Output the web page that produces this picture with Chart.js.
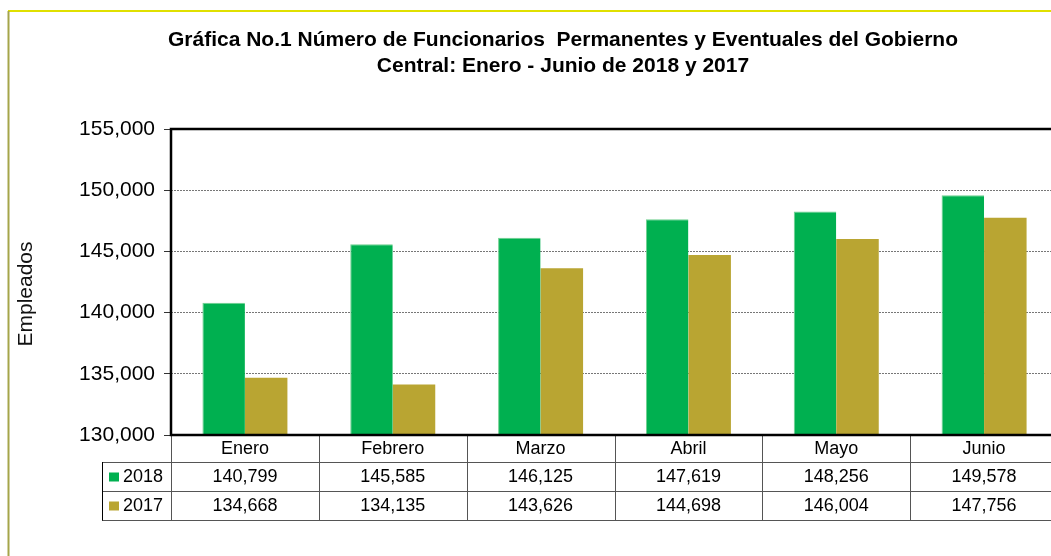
<!DOCTYPE html>
<html>
<head>
<meta charset="utf-8">
<script src="https://cdn.jsdelivr.net/npm/chart.js@4.4.1/dist/chart.umd.min.js"></script>
<style>
  html, body { margin: 0; padding: 0; background: #fff; overflow: hidden; }
  #wrap { width: 1062px; height: 556px; }
</style>
</head>
<body>
<div id="wrap"><canvas id="grafica" width="1062" height="556"></canvas></div>
<script>
// Datos
const meses = ["Enero", "Febrero", "Marzo", "Abril", "Mayo", "Junio"];
const series = ["2018", "2017"];
const datos2018 = [140799, 145585, 146125, 147619, 148256, 149578];
const datos2017 = [134668, 134135, 143626, 144698, 146004, 147756];
const colores = ["#00B050", "#B9A532"];
const ticksY = [130000, 135000, 140000, 145000, 150000, 155000];
const titulo = [
  "Gráfica No.1 Número de Funcionarios  Permanentes y Eventuales del Gobierno",
  "Central: Enero - Junio de 2018 y 2017",
];
const tituloY = "Empleados";

const FUENTE = "'Liberation Sans', Arial, sans-serif";
const fmt = (v) => v.toLocaleString("en-US");

Chart.defaults.font.family = FUENTE;
Chart.defaults.color = "#000";

// Marco, titulos y tabla de datos
const tablaPlugin = {
  id: "tabla",
  beforeDraw(chart) {
    const ctx = chart.ctx;
    ctx.save();
    // marco exterior
    ctx.strokeStyle = "#E0E000";
    ctx.lineWidth = 2;
    ctx.beginPath();
    ctx.moveTo(8, 11);
    ctx.lineTo(chart.width, 11);
    ctx.stroke();
    ctx.strokeStyle = "#A5A54A";
    ctx.beginPath();
    ctx.moveTo(8.5, 11);
    ctx.lineTo(8.5, chart.height);
    ctx.stroke();
    // titulo
    ctx.fillStyle = "#000";
    ctx.font = "bold 21px " + FUENTE;
    ctx.textAlign = "center";
    ctx.textBaseline = "middle";
    ctx.fillText(titulo[0], 563, 40);
    ctx.fillText(titulo[1], 563, 66);
    // titulo del eje
    ctx.font = "21px " + FUENTE;
    ctx.fillStyle = "#111";
    ctx.translate(26, 294);
    ctx.rotate(-Math.PI / 2);
    ctx.fillText(tituloY, 0, 0);
    ctx.restore();
  },
  afterDatasetsDraw(chart) {
    const ctx = chart.ctx;
    const a = chart.chartArea;
    const x = chart.scales.x;
    const ancho = (x.getPixelForValue(1) - x.getPixelForValue(0));
    const filas = [a.bottom, a.bottom + 27, a.bottom + 56, a.bottom + 85];
    const izq = 102;
    ctx.save();

    // lineas de la tabla
    ctx.strokeStyle = "#555";
    ctx.lineWidth = 1;
    ctx.beginPath();
    for (let i = 0; i <= meses.length; i++) {
      const px = Math.round(x.getPixelForValue(i) - ancho / 2) + 0.5;
      ctx.moveTo(px, filas[0]);
      ctx.lineTo(px, filas[3]);
    }
    for (let r = 1; r < filas.length; r++) {
      ctx.moveTo(izq, filas[r] + 0.5);
      ctx.lineTo(a.right, filas[r] + 0.5);
    }
    ctx.stroke();
    ctx.strokeStyle = "#000";
    ctx.beginPath();
    ctx.moveTo(izq + 0.5, filas[1]);
    ctx.lineTo(izq + 0.5, filas[3] + 0.5);
    ctx.stroke();

    // textos
    ctx.fillStyle = "#000";
    ctx.font = "18px " + FUENTE;
    ctx.textBaseline = "middle";
    ctx.textAlign = "center";
    meses.forEach((m, i) => {
      const px = x.getPixelForValue(i);
      ctx.fillText(m, px, (filas[0] + filas[1]) / 2 + 1);
      ctx.fillText(fmt(datos2018[i]), px, (filas[1] + filas[2]) / 2 + 1);
      ctx.fillText(fmt(datos2017[i]), px, (filas[2] + filas[3]) / 2 + 1);
    });
    ctx.textAlign = "left";
    series.forEach((s, k) => {
      const cy = (filas[k + 1] + filas[k + 2]) / 2;
      ctx.fillStyle = colores[k];
      ctx.fillRect(109, cy - 4, 10, 9);
      ctx.fillStyle = "#000";
      ctx.fillText(s, 123, cy + 1);
    });

    // borde del area de grafica
    ctx.strokeStyle = "#000";
    ctx.lineWidth = 2.5;
    ctx.beginPath();
    ctx.moveTo(a.right, a.top);
    ctx.lineTo(a.left, a.top);
    ctx.lineTo(a.left, a.bottom);
    ctx.lineTo(a.right, a.bottom);
    ctx.stroke();
    ctx.restore();
  },
};

new Chart(document.getElementById("grafica"), {
  type: "bar",
  data: {
    labels: meses,
    datasets: [
      {
        label: series[0],
        data: datos2018,
        backgroundColor: colores[0],
        borderColor: "#6FD08F",
        borderWidth: { top: 1, left: 1, right: 0, bottom: 0 },
      },
      {
        label: series[1],
        data: datos2017,
        backgroundColor: colores[1],
        borderColor: "#D6C77A",
        borderWidth: 0,
      },
    ],
  },
  options: {
    responsive: false,
    animation: false,
    layout: { padding: { top: 129, bottom: 121, left: 0, right: 4 } },
    categoryPercentage: 0.575,
    barPercentage: 1,
    plugins: {
      legend: { display: false },
      title: { display: false },
      tooltip: { enabled: false },
    },
    scales: {
      x: {
        display: false,
        offset: true,
      },
      y: {
        min: 130000,
        max: 155000,
        afterBuildTicks: (s) => {
          s.ticks = ticksY.map((v) => ({ value: v }));
        },
        afterFit: (s) => {
          s.width = 171;
        },
        ticks: {
          font: { size: 21 },
          color: "#000",
          padding: 9,
          callback: (v) => fmt(v),
        },
        grid: {
          color: "#777",
          tickColor: "#333",
          tickLength: 7,
          lineWidth: 1,
        },
        border: { display: false, dash: [2, 1] },
      },
    },
  },
  plugins: [tablaPlugin],
});
</script>
</body>
</html>
